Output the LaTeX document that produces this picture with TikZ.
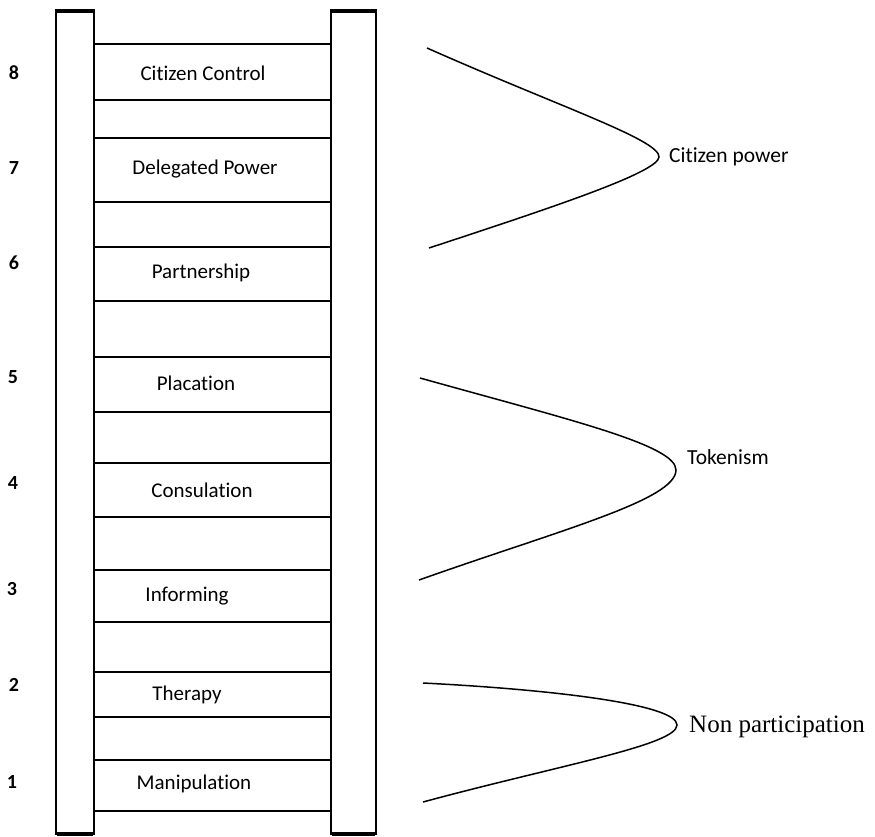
\documentclass[tikz,border=0pt]{standalone}
\usepackage{fontspec}
\setmainfont{Carlito}[Ligatures={NoCommon}]
\newfontfamily\serifnote{Liberation Serif}
\usepackage{tikz}

\begin{document}
\begin{tikzpicture}[x=1pt,y=-1pt,
    rail/.style={line width=1.8pt},
    railend/.style={line width=3.5pt},
    rung/.style={line width=1.3pt},
    steptext/.style={font=\fontsize{21}{24}\selectfont,inner sep=0pt},
    stepnum/.style={font=\bfseries\fontsize{20}{24}\selectfont,inner sep=0pt},
    brace/.style={line width=1.5pt},
    groupname/.style={font=\fontsize{21.5}{24}\selectfont,inner sep=0pt,anchor=west}]
        \useasboundingbox (0,0) rectangle (875,837);
        % Rails
        \draw[rail] (56,834) -- (56,10) -- (94,10) -- (94,834) -- cycle;
        \draw[rail] (331,834) -- (331,10) -- (376,10) -- (376,834) -- cycle;
        \draw[railend] (57,11) -- (93,11);
        \draw[railend] (332,11) -- (375,11);
        \draw[railend] (57,834) -- (93,834);
        \draw[railend] (332,834) -- (375,834);
        % Rungs
        \draw[rung] (94,44) -- (331,44);   \draw[rung] (94,100) -- (331,100);
        \draw[rung] (94,138) -- (331,138); \draw[rung] (94,202) -- (331,202);
        \draw[rung] (94,247) -- (331,247); \draw[rung] (94,301) -- (331,301);
        \draw[rung] (94,357) -- (331,357); \draw[rung] (94,412) -- (331,412);
        \draw[rung] (94,463) -- (331,463); \draw[rung] (94,517) -- (331,517);
        \draw[rung] (94,570) -- (331,570); \draw[rung] (94,622) -- (331,622);
        \draw[rung] (94,672) -- (331,672); \draw[rung] (94,717) -- (331,717);
        \draw[rung] (94,760) -- (331,760); \draw[rung] (94,811) -- (331,811);
        % Steps
        \node[steptext] (St8) at (203,73) {Citizen Control};
        \node[steptext] (St7) at (205,169) {Delegated Power};
        \node[steptext] (St6) at (201,273) {Partnership};
        \node[steptext] (St5) at (196,383) {Placation};
        \node[steptext] (St4) at (202,490) {Consulation};
        \node[steptext] (St3) at (187,596) {Informing};
        \node[steptext] (St2) at (187,695) {Therapy};
        \node[steptext] (St1) at (194,784) {Manipulation};
        % Numbers
        \node[stepnum] (N8) at (14,73) {8};
        \node[stepnum] (N7) at (14,168) {7};
        \node[stepnum] (N6) at (14,263) {6};
        \node[stepnum] (N5) at (13,377) {5};
        \node[stepnum] (N4) at (13,483) {4};
        \node[stepnum] (N3) at (12,589) {3};
        \node[stepnum] (N2) at (14,685) {2};
        \node[stepnum] (N1) at (12,782) {1};
        % Groups
        \coordinate (CPa) at (427,48);
        \coordinate (CPtip) at (659,157);
        \coordinate (CPb) at (429,248);
        \node[groupname] (CP) at (669,157) {Citizen power};
        \draw[brace] (CPa) .. controls (560,107) and (660,140) .. (CPtip)
                           .. controls (658,172) and (560,205) .. (CPb);
        \coordinate (TKa) at (420,378);
        \coordinate (TKtip) at (676,470);
        \coordinate (TKb) at (419,580);
        \node[groupname] (TK) at (687,457) {Tokenism};
        \draw[brace] (TKa) .. controls (570,420) and (676,445) .. (TKtip)
                           .. controls (676,500) and (560,530) .. (TKb);
        \coordinate (NPa) at (423,683);
        \coordinate (NPtip) at (677,725);
        \coordinate (NPb) at (423,802);
        \node[groupname,font=\serifnote\fontsize{25}{28}\selectfont] (NP) at (689,727) {Non participation};
        \draw[brace] (NPa) .. controls (560,690) and (677,705) .. (NPtip)
                           .. controls (677,745) and (560,765) .. (NPb);
      \end{tikzpicture}
\end{document}
